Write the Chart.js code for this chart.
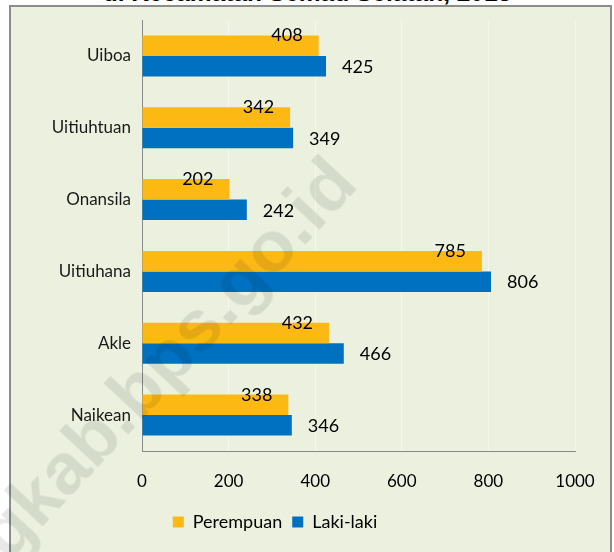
<!DOCTYPE html>
<html>
<head>
<meta charset="utf-8">
<script src="https://cdn.jsdelivr.net/npm/chart.js@4.4.0/dist/chart.umd.min.js"></script>
<style>
  html, body { margin:0; padding:0; width:614px; height:552px; overflow:hidden; background:#fff; position:relative; }
  #title { position:absolute; left:0; width:614px; top:-19.5px; text-align:center; font:bold 24.5px "Liberation Sans", Arial, sans-serif; line-height:1; color:#000; white-space:nowrap; }
  #frame { position:absolute; left:9px; top:5px; width:599px; height:600px; border:2px solid #8c8c8c; background:#EBF1DE; }
  #wrap { position:absolute; left:11px; top:7px; width:598px; height:545px; }
  #wm { position:absolute; left:0; top:0; transform-origin:0 0; transform: translate(360px,186px) rotate(-47deg) translate(-100%,-62px);
        font:bold 73px "Liberation Sans", Arial, sans-serif; line-height:1; color:rgba(0,0,0,0.09); white-space:nowrap; pointer-events:none; }
</style>
</head>
<body>
<div id="title">di Kecamatan Semau Selatan, 2013</div>
<div id="frame"></div>
<div id="wrap"><canvas id="c" width="598" height="545"></canvas></div>
<div id="wm">kupangkab.bps.go.id</div>
<script>
const categories = ['Uiboa', 'Uitiuhtuan', 'Onansila', 'Uitiuhana', 'Akle', 'Naikean'];
const perempuan = [408, 342, 202, 785, 432, 338];
const lakiLaki = [425, 349, 242, 806, 466, 346];
const seriesNames = ['Perempuan', 'Laki-laki'];
const xTicks = [0, 200, 400, 600, 800, 1000];

const FONT = 'Lato, "Open Sans", sans-serif';

const barLabels = {
  id: 'barLabels',
  afterDatasetsDraw(chart) {
    const ctx = chart.ctx;
    ctx.save();
    ctx.font = '18px ' + FONT;
    ctx.fillStyle = '#000';
    ctx.textBaseline = 'middle';
    const m0 = chart.getDatasetMeta(0), m1 = chart.getDatasetMeta(1);
    m0.data.forEach((bar, i) => {
      ctx.textAlign = 'right';
      ctx.fillText(String(chart.data.datasets[0].data[i]), bar.x - 16, bar.y - 10);
    });
    m1.data.forEach((bar, i) => {
      ctx.textAlign = 'left';
      ctx.fillText(String(chart.data.datasets[1].data[i]), bar.x + 16, bar.y + 1);
    });
    ctx.restore();
  }
};

new Chart(document.getElementById('c'), {
  type: 'bar',
  data: {
    labels: categories,
    datasets: [
      { label: seriesNames[0], data: perempuan, backgroundColor: '#FDB913', categoryPercentage: 0.57, barPercentage: 1.0 },
      { label: seriesNames[1], data: lakiLaki, backgroundColor: '#0070C0', categoryPercentage: 0.57, barPercentage: 1.0 }
    ]
  },
  options: {
    indexAxis: 'y',
    responsive: false,
    animation: false,
    devicePixelRatio: 1,
    layout: { padding: { left: -36, right: 34, top: 13, bottom: 11 } },
    scales: {
      x: {
        min: xTicks[0], max: xTicks[xTicks.length - 1],
        afterBuildTicks(scale) { scale.ticks = xTicks.map(v => ({ value: v })); },
        afterFit(scale) { scale.height = 52; scale.paddingLeft = 0; scale.paddingRight = 0; },
        ticks: { color: '#000', font: { family: FONT, size: 17 }, padding: 20, callback: v => String(v) },
        grid: { color: '#F6F6EE', lineWidth: 1, drawTicks: false },
        border: { display: true, color: '#8a8a8a', width: 1 }
      },
      y: {
        afterFit(scale) { scale.width = 167; scale.paddingTop = 0; scale.paddingBottom = 0; },
        ticks: { color: '#1a1a1a', font: { family: FONT, size: 17 }, padding: 11 },
        grid: { color: 'transparent', drawTicks: false },
        border: { display: true, color: '#8a8a8a', width: 1 }
      }
    },
    plugins: {
      legend: {
        position: 'bottom',
        labels: { boxWidth: 11, boxHeight: 11, padding: 10, color: '#000', font: { family: FONT, size: 18 } }
      },
      tooltip: { enabled: false },
      title: { display: false }
    }
  },
  plugins: [barLabels]
});
</script>
</body>
</html>
